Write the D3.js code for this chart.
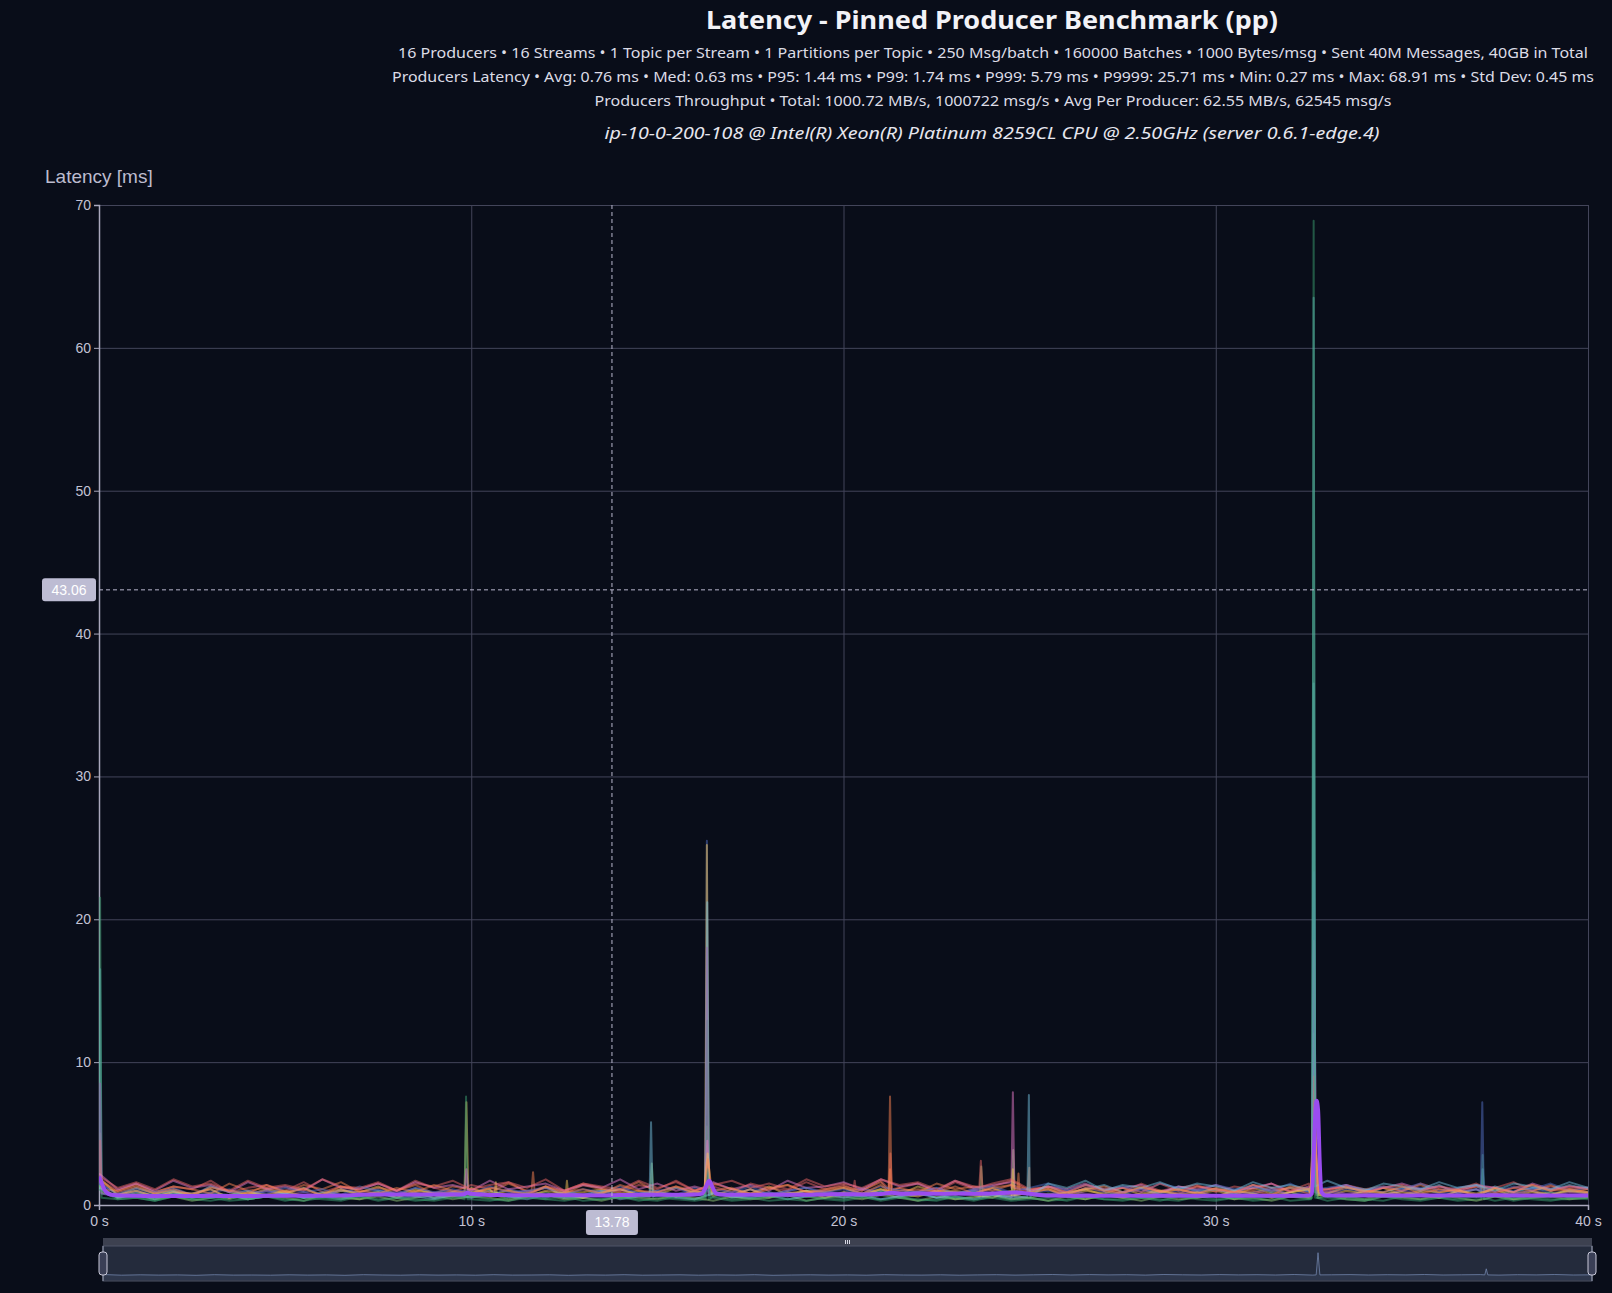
<!DOCTYPE html>
<html><head><meta charset="utf-8">
<script src="https://cdn.jsdelivr.net/npm/d3@7"></script>
<style>html,body{margin:0;padding:0;background:#090d19;}svg{display:block;}</style>
</head><body>
<svg id="chart" width="1612" height="1293"></svg>
<script>
// ---------------- texts ----------------
const titleText = "Latency - Pinned Producer Benchmark (pp)";
const subtitleLines = [
  "16 Producers • 16 Streams • 1 Topic per Stream • 1 Partitions per Topic • 250 Msg/batch • 160000 Batches • 1000 Bytes/msg • Sent 40M Messages, 40GB in Total",
  "Producers Latency • Avg: 0.76 ms • Med: 0.63 ms • P95: 1.44 ms • P99: 1.74 ms • P999: 5.79 ms • P9999: 25.71 ms • Min: 0.27 ms • Max: 68.91 ms • Std Dev: 0.45 ms",
  "Producers Throughput • Total: 1000.72 MB/s, 1000722 msg/s • Avg Per Producer: 62.55 MB/s, 62545 msg/s"
];
const hostLine = "ip-10-0-200-108 @ Intel(R) Xeon(R) Platinum 8259CL CPU @ 2.50GHz (server 0.6.1-edge.4)";
const yAxisName = "Latency [ms]";
const xTicks = [0, 10, 20, 30, 40];
const yTicks = [0, 10, 20, 30, 40, 50, 60, 70];
const pointerTime = 13.78;
const pointerLatency = 43.06;

// ---------------- data ----------------
const times = [0,0.5,1,1.5,2,2.5,3,3.5,4,4.5,5,5.5,6,6.5,7,7.5,8,8.5,9,9.5,10,10.5,11,11.5,12,12.5,13,13.5,14,14.5,15,15.5,16,16.5,17,17.5,18,18.5,19,19.5,20,20.5,21,21.5,22,22.5,23,23.5,24,24.5,25,25.5,26,26.5,27,27.5,28,28.5,29,29.5,30,30.5,31,31.5,32,32.5,33,33.5,34,34.5,35,35.5,36,36.5,37,37.5,38,38.5,39,39.5,40];
const producerNames = ["Producer 1","Producer 2","Producer 3","Producer 4","Producer 5","Producer 6","Producer 7","Producer 8","Producer 9","Producer 10","Producer 11","Producer 12","Producer 13","Producer 14","Producer 15","Producer 16"];
const palette = ["#5470c6","#91cc75","#fac858","#ee6666","#73c0de","#3ba272","#fc8452","#9a60b4","#ea7ccc"];

const p01 = [1.6,.7,1.1,.8,1.2,.7,.9,1.1,.6,1, .8,1.2,.7,1,.9,1.1,.7,1.2,.8,1, .9,.7,1.1,.8,1.2,.9,.7,1,1.1,.8, 1,.7,1.2,.9,.8,1.1,.7,1,1.2,.8, .9,1.2,.8,1.1,.9,1.2,.8,1,1.1,.9, .8,1,.7,1.2,.9,.8,1.1,.7,1,.9, 1.1,.8,.9,1.2,.7,1,.8,1.1,.9,.7, 1,1.2,.8,.9,1.1,.7,1,1.2,.8,1, .9];
const p02 = [1.4,.5,.8,.6,.9,.5,.7,.4,.8,.6, .9,.5,.7,.6,.4,.8,.6,.9,.5,.7, .6,.8,.4,.7,.9,.5,.6,.8,.5,.7, .9,.6,.4,.8,.6,.7,.5,.9,.6,.5, .8,.6,.9,.5,.7,.8,.4,.6,.9,.6, .5,.8,.6,.4,.7,.9,.5,.6,.8,.5, .7,.4,.8,.6,.9,.5,.7,.6,.4,.8, .6,.9,.5,.7,.6,.8,.4,.7,.9,.5, .6];
const p03 = [1.5,.7,1.2,.8,1,.6,1.3,.9,.7,1.1, .8,1.2,.6,1,.9,1.3,.7,1.1,.8,.9, 1.2,.7,1,.8,1.3,.6,.9,1.1,.8,1, .7,1.2,.9,.6,1.1,.8,1.3,.7,1,.9, 1.2,.8,1.1,.7,1.3,.9,1,.8,1.2,.7, .9,1.1,.6,1,.8,1.2,.7,.9,1.1,.8, 1,.7,1.2,.8,.9,1.1,.6,1,.8,1.2, .7,1,.9,1.1,.6,1.2,.8,1,.7,1.1, .9];
const p04 = [1.8,1,1.5,.9,1.3,1.1,1.7,.9,1.2,1.4, 1,1.6,.9,1.3,1.1,1.5,1,1.7,1.2,.9, 1.4,1.1,1.6,.9,1.3,1,1.5,1.2,.9,1.4, 1.1,1.7,1,1.3,.9,1.5,1.2,1,1.6,1.1, 1.4,1,1.7,1.2,1.5,.9,1.6,1.1,1.3,1.7, 1,1.3,.9,1.4,1.1,.9,1.5,1,1.2,1.4, .9,1.3,1.1,1.5,1,1.2,.9,1.4,1.1,1.3, 1,1.5,1.1,.9,1.3,1.2,1.6,1,1.3,1.1, 1.2];
const p05 = [1.3,.6,.9,.7,1,.5,.8,.7,1,.6, .8,.5,.9,.7,.6,1,.7,.8,.5,.9, .7,1,.6,.8,.5,.9,.7,1,.6,.8, .9,.6,.8,1,.5,.7,.9,.6,1,.7, .8,.6,1,.7,.9,.5,.8,1,.7,.6, .9,1.3,.8,1.1,1.4,.9,1.2,.8,1.3,1, 1.1,.8,1.4,.9,1.2,1,.8,1.3,1.1,.9, 1.2,1,1.4,.8,1.1,1.3,.9,1.2,1,1.4, 1.1];
const p06 = [1.2,.4,.5,.3,.6,.4,.3,.5,.4,.6, .3,.5,.4,.3,.6,.4,.5,.3,.4,.6, .4,.3,.5,.6,.4,.3,.5,.4,.6,.3, .5,.4,.3,.6,.4,.5,.3,.4,.6,.4, .3,.5,.4,.6,.3,.4,.5,.3,.6,.4, .5,.3,.4,.6,.4,.3,.5,.4,.3,.6, .4,.5,.3,.4,.6,.4,.3,.5,.4,.3, .6,.4,.5,.3,.4,.6,.3,.5,.4,.4, .5];
const p07 = [1.7,1,1.4,.9,1.3,1.1,.8,1.5,1,1.2, .9,1.4,1.1,1.6,.9,1.2,1,1.4,.8,1.3, 1.1,.9,1.5,1,1.2,.8,1.4,1.1,1,1.6, .9,1.3,1,1.5,1.1,.8,1.2,1.4,.9,1.1, 1.3,1,1.6,1.2,.9,1.5,1.1,1.3,1,1.4, .9,1.2,.8,1.1,1.3,.9,1.2,1,.8,1.3, 1.1,.9,1.4,1,1.2,.8,1.1,1.3,.9,1.2, 1,1.4,.9,1.1,1.3,.8,1.2,1,1.4,.9, 1.1];
const p08 = [1.4,.7,1,.6,.9,.8,1.1,.5,.8,1, .7,.9,.6,1.1,.8,.7,1,.6,.9,.8, 1.1,.6,.8,1,.7,.9,.5,.8,1.1,.7, .9,.6,1,.8,.7,1.1,.6,.9,.8,1, .7,1.1,.8,.6,1,.9,.7,1.1,.8,.6, .9,.7,1,.8,.6,.9,1.1,.7,.8,1, .6,.9,.8,1.1,.7,.6,1,.8,.9,.7, 1,.8,.6,.9,1.1,.7,.8,1,.6,.9, .8];
const p09 = [2.2,1.1,1.5,1,1.7,1.2,1.4,.9,1.6,1.1, 1.3,1,1.8,1.2,1.1,1.5,1,1.6,1.2,1.4, 1,1.7,1.1,1.3,1.5,1,1.4,1.2,1.8,1.1, 1.5,1,1.3,1.6,1.1,1.4,1,1.7,1.2,1.3, 1.6,1.1,1.8,1.3,1.5,1,1.7,1.2,1.4,1.6, 1,1.3,1.1,1.5,1,1.2,1.4,.9,1.3,1.1, 1.4,1,1.2,1.5,.9,1.3,1.1,1.4,1,1.2, 1.5,1.1,1.3,1,1.4,1.2,.9,1.5,1.1,1.3, 1.2];
const p10 = [1.5,.8,1.2,.9,1.1,.7,1.3,.9,1,.8, 1.2,.9,1.1,.7,1.3,1,.8,1.2,.9,1.1, .8,1.3,.9,1,1.2,.7,1.1,.9,1.3,.8, 1,1.2,.8,1.1,.9,1.3,.7,1,1.2,.9, 1.1,.8,1.3,1,.9,1.2,.8,1.1,1.3,.9, 1.2,1.5,1,1.4,1.1,1.3,.9,1.5,1.2,1, 1.4,1.1,1.3,1,1.5,.9,1.2,1.4,1,1.3, 1.1,1.5,1,1.2,1.4,.9,1.3,1.1,1.5,1, 1.2];
const p11 = [1.3,.5,.7,.4,.6,.3,.5,.7,.4,.6, .5,.3,.7,.5,.4,.6,.3,.5,.7,.4, .6,.5,.3,.6,.7,.4,.5,.3,.6,.5, .4,.7,.5,.3,.6,.4,.5,.7,.3,.5, .6,.4,.7,.5,.3,.6,.4,.5,.7,.4, .5,.3,.6,.4,.7,.5,.3,.6,.4,.5, .7,.4,.5,.3,.6,.5,.7,.4,.3,.6, .5,.4,.7,.5,.3,.6,.4,.5,.6,.4, .5];
const p12 = [1.9,.7,1,.6,.9,.8,1.1,.5,.9,.7, 1,.6,.8,1.1,.7,.9,.5,1,.8,.6, .9,1.1,.7,.6,1,.8,.5,.9,1.1,.7, .8,.6,1,.9,.7,1.1,.6,.8,1,.5, .9,.7,1.1,.8,.6,1,.9,.7,.5,1, .8,.6,.9,1.1,.7,.5,.8,1,.7,.9, .6,1,.8,.5,.9,1.1,.7,.6,1,.8, .9,.7,.5,1,.8,1.1,.6,.9,.7,1, .8];
const p13 = [2,1.2,1.6,1.1,1.8,1.3,1.5,1,1.7,1.2, 1.4,1.1,1.8,1.3,1.2,1.6,1,1.5,1.3,1.7, 1.1,1.4,1.6,1.2,1.8,1,1.5,1.3,1.1,1.7, 1.2,1.6,1,1.4,1.7,1.2,1.5,1.1,1.8,1.3, 1.5,1.2,1.8,1.4,1.6,1.1,1.7,1.3,1.5,1.8, 1.1,1.3,.9,1.4,1.1,1.2,.9,1.5,1,1.3, 1.1,.9,1.4,1.2,1,1.5,1.1,1.3,.9,1.2, 1.4,1,1.3,1.1,1.5,.9,1.2,1.4,1,1.3, 1.1];
const p14 = [1.2,.5,.7,.4,.8,.6,.5,.7,.4,.6, .8,.5,.6,.4,.7,.8,.5,.6,.4,.7, .5,.8,.6,.4,.7,.5,.6,.8,.4,.6, .7,.5,.4,.8,.6,.5,.7,.4,.6,.8, .5,.7,.4,.6,.8,.5,.6,.4,.7,.5, 1.1,1.5,1.2,1.7,1,1.4,1.2,1.6,1.1,1.5, 1.3,1,1.6,1.2,1.4,1.1,1.7,1.2,1,1.5, 1.3,1.1,1.6,1.2,1.4,1,1.5,1.3,1.1,1.6, 1.2];
const p15 = [1.1,.4,.5,.3,.6,.4,.5,.3,.4,.6, .4,.3,.5,.4,.6,.3,.5,.4,.3,.5, .6,.4,.3,.5,.4,.6,.3,.4,.5,.4, .3,.6,.4,.5,.3,.4,.6,.4,.3,.5, .4,.6,.3,.5,.4,.3,.6,.4,.5,.3, .4,.5,.3,.6,.4,.4,.5,.3,.6,.4, .3,.5,.4,.6,.3,.4,.5,.4,.3,.6, .4,.3,.5,.4,.6,.3,.5,.4,.3,.5, .4];
const p16 = [1.7,.9,1.3,.8,1.1,.7,1.2,1,.8,1.4, .9,1.1,.7,1.3,1,.8,1.2,.9,1.4,1, .8,1.2,1,.7,1.3,.9,1.1,.8,1.4,1, .9,1.3,.8,1,1.2,.7,1.1,1.4,.9,1, 1.2,.8,1.4,1,1.1,.9,1.3,.8,1.2,1.4, .9,1.1,.7,1.2,1,.8,1.3,.9,1.1,.8, 1.2,.9,1,.7,1.3,1.1,.8,1.2,1,.9, 1.3,.8,1.1,1,.7,1.2,.9,1.4,1,1.1, .9];
const producerSeries = [p01,p02,p03,p04,p05,p06,p07,p08,p09,p10,p11,p12,p13,p14,p15,p16];

// spike samples: [producer index, time s, latency ms]
const spikePoints = [
  [5,0.03,21.5],[5,0.07,.5],[4,0.03,16.5],[4,0.07,.8],[7,0.03,8.5],[7,0.07,.8],
  [2,0.03,5],[2,0.07,.9],[6,0.03,4.5],[6,0.07,1.1],
  [5,9.82,.4],[5,9.86,7.6],[5,9.9,.4],
  [2,9.82,.8],[2,9.87,7.2],[2,9.92,.9],
  [8,9.83,1.2],[8,9.87,2.5],[8,9.91,1.1],
  [11,10.63,.7],[11,10.66,1.6],[11,10.69,.7],
  [6,11.62,1],[6,11.66,2.3],[6,11.7,1],
  [2,12.54,.8],[2,12.57,1.7],[2,12.6,.9],
  [13,14.79,.6],[13,14.83,5.8],[13,14.87,.6],
  [1,14.8,.6],[1,14.85,2.9],[1,14.9,.6],
  [0,16.29,.9],[0,16.33,25.5],[0,16.37,.9],
  [2,16.28,.9],[2,16.33,25.2],[2,16.38,1],
  [4,16.29,.7],[4,16.34,21.2],[4,16.39,.7],
  [7,16.29,.8],[7,16.33,18],[7,16.37,.8],
  [5,16.3,.4],[5,16.34,12.9],[5,16.38,.4],
  [1,16.27,.6],[1,16.33,5.5],[1,16.4,.7],
  [8,16.28,1.1],[8,16.34,4.5],[8,16.4,1.2],
  [11,16.25,.8],[11,16.35,3.6],[11,16.45,.8],
  [15,16.26,1],[15,16.36,3.2],[15,16.46,1],
  [14,16.27,.5],[14,16.35,2.5],[14,16.43,.5],
  [3,20.27,1.1],[3,20.3,1.7],[3,20.33,1.1],
  [6,21.21,1],[6,21.25,7.6],[6,21.29,1],
  [3,21.22,1.1],[3,21.26,3.6],[3,21.3,1.1],
  [15,21.22,.9],[15,21.25,2.5],[15,21.28,.9],
  [12,23.65,1.3],[12,23.69,3.1],[12,23.73,1.3],
  [1,23.66,.6],[1,23.7,2.7],[1,23.74,.6],
  [8,24.51,1.2],[8,24.55,7.9],[8,24.59,1.2],
  [1,24.52,.6],[1,24.56,3.85],[1,24.6,.6],
  [11,24.52,.7],[11,24.55,2.5],[11,24.58,.7],
  [15,24.67,1],[15,24.7,2.2],[15,24.73,1],
  [13,24.94,.6],[13,24.98,7.7],[13,25.02,.6],
  [6,24.95,1.1],[6,24.99,2.6],[6,25.03,1.1],
  [14,32.59,.5],[14,32.63,68.9],[14,32.67,.5],
  [13,32.59,1.3],[13,32.63,63.5],[13,32.67,1.3],
  [4,32.59,.9],[4,32.63,36.5],[4,32.67,.9],
  [9,32.59,1.1],[9,32.64,23.3],[9,32.69,1.1],
  [8,32.58,1.1],[8,32.64,18.5],[8,32.7,1.1],
  [1,32.57,.7],[1,32.63,12],[1,32.7,.7],
  [7,32.57,.8],[7,32.64,10],[7,32.71,.8],
  [12,32.56,1.1],[12,32.64,9],[12,32.72,1.1],
  [3,32.56,1.1],[3,32.63,8],[3,32.7,1.1],
  [0,32.55,.8],[0,32.64,7],[0,32.73,.8],
  [2,32.55,.9],[2,32.65,7],[2,32.75,.9],
  [5,32.56,.4],[5,32.64,6.5],[5,32.72,.5],
  [10,32.55,.5],[10,32.65,6],[10,32.75,.5],
  [6,32.55,1],[6,32.64,5.5],[6,32.73,1],
  [15,32.54,.9],[15,32.65,5.2],[15,32.76,.9],
  [11,32.54,.7],[11,32.66,4.8],[11,32.78,.7],
  [9,37.12,1.1],[9,37.16,7.2],[9,37.2,1.1],
  [5,37.13,.4],[5,37.17,3.5],[5,37.21,.4],
  [4,37.13,.9],[4,37.17,2.5],[4,37.21,.9]
];

// average latency line [time s, latency ms]
const avgLatency = [
  [0,2],[0.05,1.7],[0.15,1.05],[0.3,.74],[0.5,.68],[1,.64],[1.5,.63],[2,.63],[2.5,.63],[3,.64],[3.5,.63],[4,.63],[4.5,.64],
  [5,.64],[5.5,.65],[6,.64],[6.5,.66],[7,.72],[7.5,.74],[8,.73],[8.5,.74],[9,.73],[9.5,.74],[9.8,.76],[9.9,.86],[10,.78],
  [10.5,.7],[11,.69],[11.5,.68],[12,.68],[12.5,.69],[13,.68],[13.5,.67],[14,.7],[14.5,.71],[15,.72],[15.5,.71],[16,.73],
  [16.2,.8],[16.3,1.25],[16.39,1.7],[16.48,1.25],[16.58,.8],[16.8,.72],[17,.72],[17.5,.72],[18,.73],[18.5,.72],[19,.72],[19.5,.74],
  [20,.76],[20.5,.74],[21,.77],[21.3,.86],[21.6,.78],[22,.8],[22.5,.79],[23,.8],[23.5,.78],[24,.8],[24.6,.88],[25,.78],[25.5,.66],[26,.65],
  [26.5,.65],[27,.64],[27.5,.65],[28,.65],[28.5,.64],[29,.65],[29.5,.65],[30,.64],[30.5,.65],[31,.65],[31.5,.64],[32,.65],[32.5,.66],
  [32.58,.8],[32.62,2.5],[32.66,5.6],[32.71,7.3],[32.75,6.6],[32.79,3.2],[32.84,.9],[32.95,.67],[33.5,.66],[34,.67],[34.5,.66],
  [35,.67],[35.5,.66],[36,.67],[36.5,.66],[37,.67],[37.5,.68],[38,.67],[38.5,.66],[39,.67],[39.5,.66],[40,.66]
];

// ---------------- layout ----------------
const W = 1612, H = 1293;
const plot = {left: 99, right: 1588, top: 205, bottom: 1205};
const svg = d3.select("#chart");
const fontUI = "'Noto Sans', 'Open Sans', sans-serif";
const fontAxis = "'Liberation Sans', Arial, sans-serif";
svg.append("rect").attr("width", W).attr("height", H).attr("fill", "#090d19");

// titles
svg.append("text").attr("x", 992).attr("y", 29).attr("text-anchor", "middle")
  .attr("font-family", fontUI).attr("font-weight", 700).attr("font-size", 25)
  .attr("fill", "#f2f2f7").attr("textLength", 572).attr("lengthAdjust", "spacingAndGlyphs").text(titleText);
const subY = [58, 82, 106], subW = [1190, 1202, 797];
subtitleLines.forEach((s, i) => {
  svg.append("text").attr("x", 993).attr("y", subY[i]).attr("text-anchor", "middle")
    .attr("font-family", fontUI).attr("font-size", 15).attr("fill", "#dcdce6")
    .attr("textLength", subW[i]).attr("lengthAdjust", "spacingAndGlyphs").text(s);
});
svg.append("text").attr("x", 992).attr("y", 139).attr("text-anchor", "middle")
  .attr("font-family", fontUI).attr("font-style", "italic").attr("font-size", 17).attr("fill", "#e6e6ee")
  .attr("textLength", 775).attr("lengthAdjust", "spacingAndGlyphs").text(hostLine);

// scales
const x = d3.scaleLinear().domain([0, 40]).range([plot.left, plot.right]);
const y = d3.scaleLinear().domain([0, 70]).range([plot.bottom, plot.top]);

// grid
const grid = svg.append("g");
grid.selectAll(".hg").data(yTicks.filter(d => d > 0)).join("line")
  .attr("x1", plot.left).attr("x2", plot.right).attr("y1", d => y(d) + 0.5).attr("y2", d => y(d) + 0.5)
  .attr("stroke", "#43455a").attr("stroke-width", 1);
grid.selectAll(".vg").data(xTicks.filter(d => d > 0)).join("line")
  .attr("y1", plot.top).attr("y2", plot.bottom).attr("x1", d => x(d) + 0.5).attr("x2", d => x(d) + 0.5)
  .attr("stroke", "#43455a").attr("stroke-width", 1);

// axes
const yAxis = svg.append("g").attr("transform", `translate(${plot.left},0)`)
  .call(d3.axisLeft(y).tickValues(yTicks).tickSize(5).tickPadding(3).tickFormat(d => d));
const xAxis = svg.append("g").attr("transform", `translate(0,${plot.bottom})`)
  .call(d3.axisBottom(x).tickValues(xTicks).tickSize(5).tickPadding(6).tickFormat(d => d + " s"));
[yAxis, xAxis].forEach(g => {
  g.select(".domain").attr("stroke", "#a9a8bd").attr("stroke-width", 1.5);
  g.selectAll(".tick line").attr("stroke", "#a9a8bd");
  g.selectAll("text").attr("fill", "#c3c2d4").attr("font-size", 14).attr("font-family", fontAxis);
});
svg.append("text").attr("x", 45).attr("y", 183).attr("font-family", fontAxis).attr("font-size", 19)
  .attr("fill", "#bdbccf").text(yAxisName);

// clip
svg.append("clipPath").attr("id", "plotClip").append("rect")
  .attr("x", plot.left).attr("y", plot.top - 2).attr("width", plot.right - plot.left).attr("height", plot.bottom - plot.top + 2);

// build producer series
function seriesPoints(k) {
  const pts = times.map((t, i) => [t, producerSeries[k][i]]);
  spikePoints.filter(s => s[0] === k).forEach(s => pts.push([s[1], s[2]]));
  pts.sort((a, b) => a[0] - b[0]);
  return pts;
}
const line = d3.line().x(d => x(d[0])).y(d => y(d[1]));
const linesG = svg.append("g").attr("clip-path", "url(#plotClip)");
producerSeries.forEach((vals, k) => {
  linesG.append("path").datum(seriesPoints(k)).attr("d", line)
    .attr("fill", "none").attr("stroke", palette[k % palette.length])
    .attr("stroke-width", 2).attr("stroke-opacity", 0.5).attr("stroke-linejoin", "round")
    .append("title").text(producerNames[k]);
});
linesG.append("path").datum(avgLatency)
  .attr("d", d3.line().x(d => x(d[0])).y(d => y(d[1])).curve(d3.curveMonotoneX))
  .attr("fill", "none").attr("stroke", "#9a4cf0").attr("stroke-width", 4).attr("stroke-linejoin", "round");

// axis pointer
const ptr = svg.append("g");
ptr.append("line").attr("x1", plot.left).attr("x2", plot.right).attr("y1", y(pointerLatency)).attr("y2", y(pointerLatency))
  .attr("stroke", "#b9b8ce").attr("stroke-dasharray", "4,3").attr("stroke-width", 1);
ptr.append("line").attr("y1", plot.top).attr("y2", plot.bottom).attr("x1", x(pointerTime)).attr("x2", x(pointerTime))
  .attr("stroke", "#b9b8ce").attr("stroke-dasharray", "4,3").attr("stroke-width", 1);
ptr.append("rect").attr("x", plot.left - 57).attr("y", y(pointerLatency) - 11.5).attr("width", 54).attr("height", 23)
  .attr("rx", 3).attr("fill", "#bdbcd3");
ptr.append("text").attr("x", plot.left - 30).attr("y", y(pointerLatency)).attr("dy", "0.35em").attr("text-anchor", "middle")
  .attr("font-family", fontAxis).attr("font-size", 14).attr("fill", "#ffffff").text(pointerLatency.toFixed(2));
ptr.append("rect").attr("x", x(pointerTime) - 26).attr("y", plot.bottom + 5).attr("width", 52).attr("height", 25)
  .attr("rx", 3).attr("fill", "#bdbcd3");
ptr.append("text").attr("x", x(pointerTime)).attr("y", plot.bottom + 17.5).attr("dy", "0.35em").attr("text-anchor", "middle")
  .attr("font-family", fontAxis).attr("font-size", 14).attr("fill", "#ffffff").text(pointerTime.toFixed(2));

// data zoom slider
const sl = {left: 103, right: 1592, top: 1246, bottom: 1281};
const sx = d3.scaleLinear().domain([0, 40]).range([sl.left, sl.right]);
const sy = d3.scaleLinear().domain([0, 28]).range([1276, 1248]);
const slider = svg.append("g");
slider.append("rect").attr("x", sl.left).attr("y", 1238).attr("width", sl.right - sl.left).attr("height", 8).attr("fill", "#3d4150");
slider.append("rect").attr("x", sl.left).attr("y", sl.top).attr("width", sl.right - sl.left).attr("height", sl.bottom - sl.top)
  .attr("fill", "#242b3c").attr("stroke", "#4e5466").attr("stroke-width", 1);
const shadowPts = seriesPoints(9);
slider.append("path").datum(shadowPts)
  .attr("d", d3.area().x(d => sx(d[0])).y0(sl.bottom - 1).y1(d => sy(d[1])))
  .attr("fill", "#6b7fa6").attr("fill-opacity", 0.15);
slider.append("path").datum(shadowPts)
  .attr("d", d3.line().x(d => sx(d[0])).y(d => sy(d[1])))
  .attr("fill", "none").attr("stroke", "#7488b0").attr("stroke-opacity", 0.75).attr("stroke-width", 1);
[sl.left, sl.right].forEach(hx => {
  slider.append("line").attr("x1", hx).attr("x2", hx).attr("y1", sl.top).attr("y2", sl.bottom)
    .attr("stroke", "#9aa0b5").attr("stroke-width", 1);
  slider.append("rect").attr("x", hx - 4).attr("y", 1252).attr("width", 8).attr("height", 23).attr("rx", 3)
    .attr("fill", "#3a3f56").attr("stroke", "#c9c9d9").attr("stroke-width", 1);
});
const gx = (sl.left + sl.right) / 2;
[-2, 0, 2].forEach(o => {
  slider.append("line").attr("x1", gx + o).attr("x2", gx + o).attr("y1", 1240).attr("y2", 1244)
    .attr("stroke", "#d8d8e4").attr("stroke-width", 1);
});
</script>
</body></html>
